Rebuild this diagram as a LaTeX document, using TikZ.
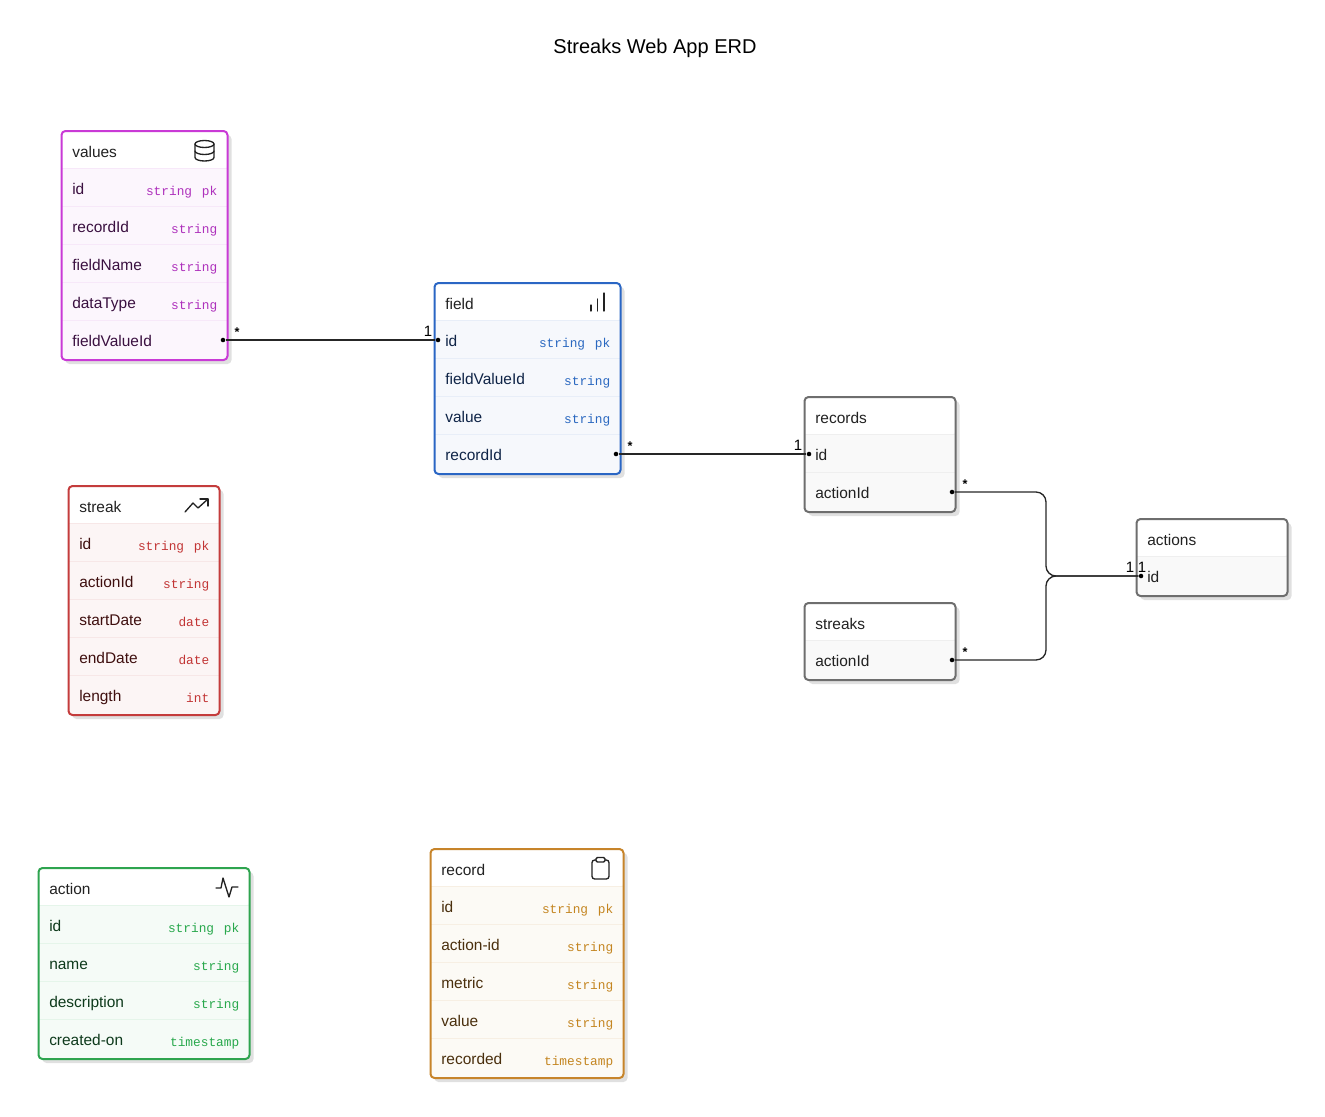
\documentclass[tikz,border=0pt]{standalone}
\usepackage{fontspec}
\setmainfont{Liberation Sans}
\setmonofont{Liberation Mono}
\usetikzlibrary{positioning,shadows}

\definecolor{purpleLine}{HTML}{C93AD6}
\definecolor{purpleFill}{HTML}{FCF6FD}
\definecolor{purpleSep}{HTML}{F7E8F9}
\definecolor{purpleText}{HTML}{3A1040}
\definecolor{purpleType}{HTML}{AE30BC}
\definecolor{blueLine}{HTML}{2A66C4}
\definecolor{blueFill}{HTML}{F6F8FC}
\definecolor{blueSep}{HTML}{E8EEF8}
\definecolor{blueText}{HTML}{0F2447}
\definecolor{blueType}{HTML}{2A68C0}
\definecolor{greyLine}{HTML}{6E6E6E}
\definecolor{greyFill}{HTML}{F9F9F9}
\definecolor{greySep}{HTML}{EFEFEF}
\definecolor{greyText}{HTML}{222222}
\definecolor{greyType}{HTML}{6E6E6E}
\definecolor{redLine}{HTML}{C43C3C}
\definecolor{redFill}{HTML}{FCF5F5}
\definecolor{redSep}{HTML}{F7E7E7}
\definecolor{redText}{HTML}{3F0F0F}
\definecolor{redType}{HTML}{C23535}
\definecolor{greenLine}{HTML}{2EA44F}
\definecolor{greenFill}{HTML}{F5FBF7}
\definecolor{greenSep}{HTML}{E5F5EA}
\definecolor{greenText}{HTML}{0E3A1C}
\definecolor{greenType}{HTML}{28A84C}
\definecolor{orangeLine}{HTML}{C7842A}
\definecolor{orangeFill}{HTML}{FCFAF5}
\definecolor{orangeSep}{HTML}{F7EFE3}
\definecolor{orangeText}{HTML}{4A2F0D}
\definecolor{orangeType}{HTML}{C48520}

\tikzset{
    tablebox/.style={rectangle, rounded corners=3pt, fill=#1Fill, inner sep=0pt, outer sep=0pt,
        drop shadow={shadow xshift=3pt, shadow yshift=-3pt, fill=black!12, opacity=1}},
    tablename/.style={anchor=base west, inner sep=0pt, font=\fontsize{11.6}{13}\selectfont},
    tabletype/.style={anchor=base east, inner sep=0pt, font=\fontsize{9.6}{12}\ttfamily},
    keydot/.style={circle, fill=black, inner sep=0pt, minimum size=3.4pt},
    many/.style={inner sep=0pt, font=\fontsize{9.5}{10}\bfseries\selectfont},
    one/.style={inner sep=0pt, font=\fontsize{11.25}{13}\selectfont},
    relation/.style={line width=1pt, black!85},
    icon/.style={line width=1pt, greyText, line cap=round, line join=round}
}
\newcommand{\pkgap}{\hspace{7.3pt}}

% name, colour, left, top, width, height, title, rows
\newcommand{\erdtable}[8]{
    \node[tablebox=#2, anchor=north west, minimum width={(#5)*0.75pt}, minimum height={(#6)*0.75pt}] (#1) at (#3,#4) {};
    \fill[white, rounded corners=3pt] (#3,#4+37.5) -- (#3,#4) -- (#3+#5,#4) -- (#3+#5,#4+37.5) [sharp corners] -- cycle;
    \node[tablename, text=greyText] (#1T) at (#3+10.5,#4+26) {#7};
    \foreach \fname/\ftype [count=\i] in {#8} {
        \pgfmathsetmacro{\rowy}{#4+37.5+38*(\i-1)}
        \draw[#2Sep, line width=1.3pt] (#3,\rowy) -- (#3+#5,\rowy);
        \node[tablename, text=#2Text] (#1N\i) at (#3+10.5,\rowy+26) {\fname};
        \node[tabletype, text=#2Type] (#1K\i) at (#3+#5-10,\rowy+27) {\ftype};
    }
    \draw[#2Line, line width=1.5pt, rounded corners=3pt] (#1.north west) rectangle (#1.south east);
}

\begin{document}
\begin{tikzpicture}[x=0.75pt,y=-0.75pt]
    \useasboundingbox (0,0) rectangle (1325,1117);

    \node[font=\fontsize{15}{18}\selectfont, inner sep=0pt] (erdtitle) at (655,48) {Streaks Web App ERD};

    % Tables
    \erdtable{values}{purple}{61.5}{131}{166}{229}{values}{id/string\pkgap pk,recordId/string,fieldName/string,dataType/string,fieldValueId/}
    \erdtable{field}{blue}{434.5}{283}{186}{191}{field}{id/string\pkgap pk,fieldValueId/string,value/string,recordId/}
    \erdtable{records}{grey}{804.5}{397}{151}{115}{records}{id/,actionId/}
    \erdtable{actions}{grey}{1136.5}{519}{151}{77}{actions}{id/}
    \erdtable{streaks}{grey}{804.5}{603}{151}{77}{streaks}{actionId/}
    \erdtable{streak}{red}{68.5}{486}{151}{229}{streak}{id/string\pkgap pk,actionId/string,startDate/date,endDate/date,length/int}
    \erdtable{action}{green}{38.5}{868}{211}{191}{action}{id/string\pkgap pk,name/string,description/string,created-on/timestamp}
    \erdtable{record}{orange}{430.5}{849}{193}{229}{record}{id/string\pkgap pk,action-id/string,metric/string,value/string,recorded/timestamp}

    % Icons
    \draw[icon] (195,144) arc[x radius=9.5, y radius=3.5, start angle=180, end angle=540];
    \draw[icon] (195,144) -- (195,157.5) arc[x radius=9.5, y radius=3.5, start angle=180, end angle=0] -- (214,144);
    \draw[icon] (195,151) arc[x radius=9.5, y radius=3.5, start angle=180, end angle=0];
    \foreach \x/\ytop in {591/305,597.5/299,604/293} \draw[icon] (\x,311) -- (\x,\ytop);
    \draw[icon] (185,512) -- (193,503) -- (198,508) -- (208,499);
    \draw[icon] (200,499) -- (208,499) -- (208,506);
    \draw[icon] (216,888) -- (221,888) -- (223,878) -- (229,897) -- (232,887) -- (238,887);
    \draw[icon, rounded corners=2pt] (596,860) -- (592,860) -- (592,879) -- (609,879) -- (609,860) -- (605,860);
    \draw[icon, rounded corners=1pt] (596,857.5) rectangle (605,862);

    % Connectors
    \node[keydot] (d1) at (223,340) {};
    \node[keydot] (d2) at (438,340) {};
    \node[keydot] (d3) at (616,454) {};
    \node[keydot] (d4) at (809,454) {};
    \node[keydot] (d5) at (952,492) {};
    \node[keydot] (d6) at (952,660) {};
    \node[keydot] (d7) at (1141,576) {};
    \coordinate (joint) at (1046,576);
    \draw[relation] (d1) -- (d2);
    \draw[relation] (d3) -- (d4);
    \draw[relation, rounded corners=7.5pt] (d5) -| (joint) -- (d7);
    \draw[relation, rounded corners=7.5pt] (d6) -| (joint) -- (d7);

    % Cardinalities
    \node[many] (m1) at (237,332) {*};
    \node[many] (m2) at (630,446) {*};
    \node[many] (m3) at (965,484) {*};
    \node[many] (m4) at (965,652) {*};
    \node[one] (o1) at (428,331) {1};
    \node[one] (o2) at (798,445) {1};
    \node[one] (o3) at (1130,567) {1};
    \node[one] (o4) at (1142,567) {1};
\end{tikzpicture}
\end{document}
